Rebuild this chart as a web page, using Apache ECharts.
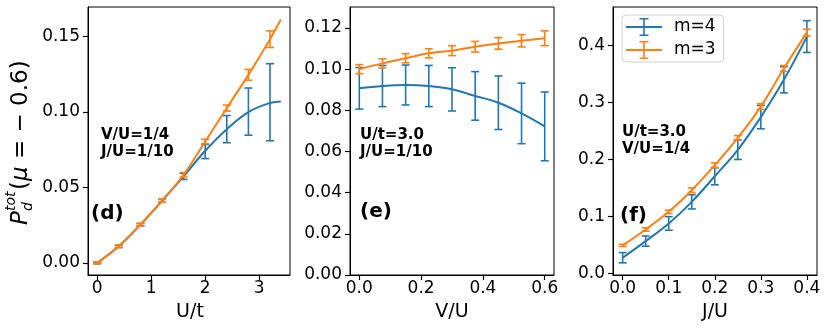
<!DOCTYPE html>
<html>
<head>
<meta charset="utf-8">
<script src="https://cdn.jsdelivr.net/npm/echarts@6/dist/echarts.min.js"></script>
<style>
  html, body { margin: 0; padding: 0; background: #fff; }
  #main { width: 830px; height: 334px; }
</style>
</head>
<body>
<div id="main"></div>
<script>
// panel (d): U/t scan
var dX = [0, 0.4, 0.8, 1.2, 1.6, 2.0, 2.4, 2.8, 3.2];
var dM4 = [0, 0.011, 0.0253, 0.0411, 0.0572, 0.0737, 0.0885, 0.1001, 0.1063];
var dM4Err = [0.0006, 0.0008, 0.0008, 0.001, 0.002, 0.0047, 0.009, 0.0156, 0.0255];
var dM3 = [0, 0.011, 0.0253, 0.0411, 0.0583, 0.0803, 0.1024, 0.1244, 0.148];
var dM3Err = [0.0005, 0.0008, 0.0008, 0.001, 0.0015, 0.0015, 0.002, 0.0036, 0.0055];
var dFitX = [0, 0.4, 0.8, 1.2, 1.6, 2.0, 2.4, 2.8, 3.2, 3.4];
var dM4Fit = [0, 0.011, 0.0253, 0.041, 0.0572, 0.0742, 0.0885, 0.0998, 0.1058, 0.1068];
var dM3Fit = [0, 0.011, 0.0253, 0.0411, 0.0583, 0.0803, 0.1024, 0.1244, 0.148, 0.161];

// panel (e): V/U scan
var eX = [0, 0.075, 0.15, 0.225, 0.3, 0.375, 0.45, 0.525, 0.6];
var eM4 = [0.0907, 0.0918, 0.0923, 0.0918, 0.0902, 0.087, 0.0837, 0.0785, 0.0722];
var eM4Err = [0.0101, 0.010, 0.0097, 0.010, 0.0105, 0.0118, 0.013, 0.0147, 0.0167];
var eM3 = [0.100, 0.1028, 0.1053, 0.1077, 0.109, 0.1109, 0.1125, 0.1138, 0.115];
var eM3Err = [0.0022, 0.0022, 0.0022, 0.0022, 0.0024, 0.0026, 0.0028, 0.003, 0.0036];

// panel (f): J/U scan
var fX = [0, 0.05, 0.1, 0.15, 0.2, 0.25, 0.3, 0.35, 0.4];
var fM4 = [0.0274, 0.0566, 0.0876, 0.1256, 0.1705, 0.217, 0.2745, 0.340, 0.416];
var fM4Err = [0.009, 0.009, 0.012, 0.0125, 0.015, 0.017, 0.0205, 0.023, 0.028];
var fM3 = [0.049, 0.077, 0.108, 0.146, 0.190, 0.238, 0.293, 0.360, 0.423];
var fM3Err = [0.002, 0.003, 0.003, 0.004, 0.004, 0.004, 0.005, 0.005, 0.006];

// tick labels
var dXTicks = [0, 1, 2, 3];
var dYTicks = [0, 0.05, 0.10, 0.15];
var eXTicks = [0, 0.2, 0.4, 0.6];
var eYTicks = [0, 0.02, 0.04, 0.06, 0.08, 0.10, 0.12];
var fXTicks = [0, 0.1, 0.2, 0.3, 0.4];
var fYTicks = [0, 0.1, 0.2, 0.3, 0.4];

var BLUE = '#1f77b4', ORANGE = '#ff7f0e';
var FONT = 'DejaVu Sans';

var chart = echarts.init(document.getElementById('main'));

function zip3(xs, ys, es) {
  return xs.map(function (x, i) { return [x, ys[i], es[i]]; });
}
function zip2(xs, ys) {
  return xs.map(function (x, i) { return [x, ys[i]]; });
}

function errRender(params, api) {
  var x = api.value(0), y = api.value(1), e = api.value(2);
  var hi = api.coord([x, y + e]);
  var lo = api.coord([x, y - e]);
  var w = 4;
  var st = { stroke: api.visual('color'), lineWidth: 1.6 };
  return {
    type: 'group',
    children: [
      { type: 'line', shape: { x1: hi[0], y1: hi[1], x2: lo[0], y2: lo[1] }, style: st },
      { type: 'line', shape: { x1: hi[0] - w, y1: hi[1], x2: hi[0] + w, y2: hi[1] }, style: st },
      { type: 'line', shape: { x1: lo[0] - w, y1: lo[1], x2: lo[0] + w, y2: lo[1] }, style: st }
    ]
  };
}

function errSeries(name, color, idx, data) {
  return {
    name: name, type: 'custom', renderItem: errRender,
    xAxisIndex: idx, yAxisIndex: idx, itemStyle: { color: color },
    encode: { x: 0, y: 1 }, data: data, z: color === ORANGE ? 4 : 3, silent: true
  };
}
function lineSeries(name, color, idx, data) {
  return {
    name: name, type: 'line', smooth: 0.4, symbol: 'none',
    xAxisIndex: idx, yAxisIndex: idx, data: data,
    lineStyle: { color: color, width: 2 }, itemStyle: { color: color },
    z: color === ORANGE ? 4 : 3, silent: true
  };
}

function makeAxis(idx, min, max, ticks, dec, margin) {
  return {
    type: 'value', gridIndex: idx, min: min, max: max,
    axisLine: { show: true, onZero: false, lineStyle: { color: '#000', width: 1 } },
    splitLine: { show: false },
    axisTick: { show: true, inside: false, length: 5, lineStyle: { color: '#000', width: 1.2 }, customValues: ticks },
    axisLabel: {
      customValues: ticks, color: '#000', fontFamily: FONT, fontSize: 17, margin: margin,
      formatter: function (v) { return v.toFixed(dec); }
    }
  };
}

var gridBase = { show: true, borderColor: '#000', borderWidth: 1, backgroundColor: 'transparent', top: 7, height: 268 };

var legendIcon = 'path://M0 9 L40 9 L40 11 L0 11 Z M19.1 0 L20.9 0 L20.9 20 L19.1 20 Z M15 0 L25 0 L25 1.8 L15 1.8 Z M15 18.2 L25 18.2 L25 20 L15 20 Z';

function note(x, y, text, size) {
  return {
    type: 'text', x: x, y: y, z: 10,
    style: { text: text, font: 'bold ' + size + 'px "' + FONT + '"', fill: '#000', lineHeight: size + 2 }
  };
}
function axisTitle(x, y, text) {
  return {
    type: 'text', x: x, y: y, z: 10,
    style: { text: text, font: '19px "' + FONT + '"', fill: '#000', align: 'center', verticalAlign: 'middle' }
  };
}

var option = {
  animation: false,
  backgroundColor: '#fff',
  grid: [
    Object.assign({ left: 88, width: 202 }, gridBase),
    Object.assign({ left: 350, width: 204 }, gridBase),
    Object.assign({ left: 613, width: 204 }, gridBase)
  ],
  xAxis: [
    makeAxis(0, -0.17, 3.57, dXTicks, 0, 5),
    makeAxis(1, -0.03, 0.63, eXTicks, 1, 5),
    makeAxis(2, -0.021, 0.422, fXTicks, 1, 5)
  ],
  yAxis: [
    makeAxis(0, -0.008, 0.1693, dYTicks, 2, 8),
    makeAxis(1, 0, 0.1302, eYTicks, 2, 8),
    makeAxis(2, -0.003, 0.468, fYTicks, 1, 8)
  ],
  legend: {
    left: 622, top: 15, orient: 'vertical',
    padding: [3, 8, 3, 4], itemGap: 5, itemWidth: 38, itemHeight: 18,
    borderColor: '#d0d0d0', borderWidth: 1, borderRadius: 4,
    backgroundColor: 'rgba(255,255,255,0.8)',
    textStyle: { fontFamily: FONT, fontSize: 17, color: '#000', padding: [0, 0, 0, 6] },
    selectedMode: false,
    data: [
      { name: 'm=4', icon: legendIcon },
      { name: 'm=3', icon: legendIcon }
    ]
  },
  graphic: [
    note(101, 127, 'V/U=1/4\nJ/U=1/10', 15),
    note(91, 203, '(d)', 20),
    note(360, 127, 'U/t=3.0\nJ/U=1/10', 15),
    note(360, 201, '(e)', 20),
    note(622, 124, 'U/t=3.0\nV/U=1/4', 15),
    note(620, 205, '(f)', 20),
    axisTitle(190, 312, 'U/t'),
    axisTitle(452, 312, 'V/U'),
    axisTitle(715, 312, 'J/U'),
    {
      type: 'group', x: 21, y: 225, rotation: Math.PI / 2, z: 10,
      children: [
        { type: 'text', x: 0, y: 0, style: { text: 'P', font: 'italic 23px "' + FONT + '"', fill: '#000', verticalAlign: 'middle' } },
        { type: 'text', x: 14, y: 7, style: { text: 'd', font: 'italic 14px "' + FONT + '"', fill: '#000', verticalAlign: 'middle' } },
        { type: 'text', x: 14, y: -10, style: { text: 'tot', font: 'italic 14px "' + FONT + '"', fill: '#000', verticalAlign: 'middle' } },
        {
          type: 'text', x: 35, y: 0,
          style: {
            text: '{a|(}{m|μ}{a| = − 0.6)}', verticalAlign: 'middle', fill: '#000',
            rich: {
              a: { fontFamily: FONT, fontSize: 23, fill: '#000' },
              m: { fontFamily: FONT, fontSize: 23, fontStyle: 'italic', fill: '#000' }
            }
          }
        }
      ]
    }
  ],
  series: [
    lineSeries('m=4', BLUE, 0, zip2(dFitX, dM4Fit)),
    errSeries('m=4', BLUE, 0, zip3(dX, dM4, dM4Err)),
    lineSeries('m=3', ORANGE, 0, zip2(dFitX, dM3Fit)),
    errSeries('m=3', ORANGE, 0, zip3(dX, dM3, dM3Err)),

    lineSeries('m=4', BLUE, 1, zip2(eX, eM4)),
    errSeries('m=4', BLUE, 1, zip3(eX, eM4, eM4Err)),
    lineSeries('m=3', ORANGE, 1, zip2(eX, eM3)),
    errSeries('m=3', ORANGE, 1, zip3(eX, eM3, eM3Err)),

    lineSeries('m=4', BLUE, 2, zip2(fX, fM4)),
    errSeries('m=4', BLUE, 2, zip3(fX, fM4, fM4Err)),
    lineSeries('m=3', ORANGE, 2, zip2(fX, fM3)),
    errSeries('m=3', ORANGE, 2, zip3(fX, fM3, fM3Err))
  ]
};

chart.setOption(option);
</script>
</body>
</html>
